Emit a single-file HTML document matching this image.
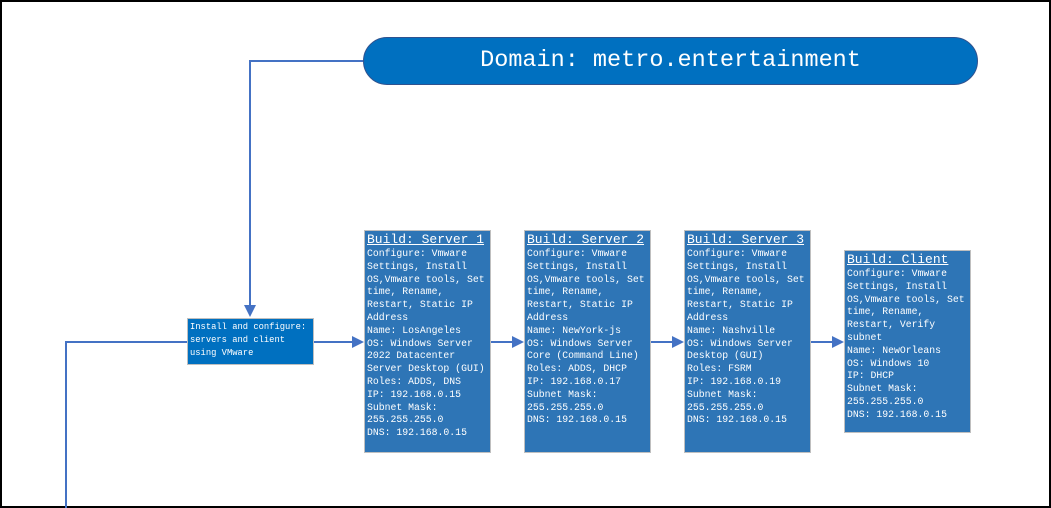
<!DOCTYPE html>
<html><head><meta charset="utf-8"><style>
body{margin:0;width:1051px;height:508px;position:relative;background:#fff;overflow:hidden}
.frame{position:absolute;left:0;top:0;width:1047px;height:504px;border:2px solid #000}
.box{position:absolute;background:#2e75b6;border:1px solid #bfbfbf;box-sizing:border-box;color:#fff;font-family:"Liberation Mono",monospace;font-size:9.8px;line-height:12.8px;padding:1px 0 0 2px;white-space:pre}
.box b{font-weight:normal;font-size:13px;line-height:16px;text-decoration:underline;display:block}
.pill{position:absolute;left:363px;top:37px;width:615px;height:48px;box-sizing:border-box;background:#0070c0;border:1px solid #2f528f;border-radius:24px;color:#fff;font-family:"Liberation Mono",monospace;font-size:23.5px;line-height:46px;text-align:center}
.inst{position:absolute;left:187px;top:318px;width:127px;height:47px;box-sizing:border-box;background:#0070c0;border:1px solid #bfbfbf;color:#fff;font-family:"Liberation Mono",monospace;font-size:8.8px;line-height:13px;padding:2px 0 0 2px;white-space:pre}
svg{position:absolute;left:0;top:0}
</style></head><body>
<div class="frame"></div>
<svg width="1051" height="508">
<g stroke="#4472c4" stroke-width="2" fill="none">
<polyline points="363,61 250,61 250,306"/>
<polyline points="187,342 66,342 66,508"/>
<line x1="314" y1="342" x2="353" y2="342"/>
<line x1="491" y1="342" x2="513" y2="342"/>
<line x1="651" y1="342" x2="673" y2="342"/>
<line x1="811" y1="342" x2="833" y2="342"/>
</g>
<g fill="#4472c4">
<polygon points="244,305 256,305 250,317"/>
<polygon points="352,336 364,342 352,348"/>
<polygon points="512,336 524,342 512,348"/>
<polygon points="672,336 684,342 672,348"/>
<polygon points="832,336 844,342 832,348"/>
</g>
</svg>
<div class="pill">Domain: metro.entertainment</div>
<div class="inst">Install and configure:
servers and client
using VMware</div>
<div class="box" style="left:364px;top:230px;width:127px;height:223px"><b>Build: Server 1</b>Configure: Vmware
Settings, Install
OS,Vmware tools, Set
time, Rename,
Restart, Static IP
Address
Name: LosAngeles
OS: Windows Server
2022 Datacenter
Server Desktop (GUI)
Roles: ADDS, DNS
IP: 192.168.0.15
Subnet Mask:
255.255.255.0
DNS: 192.168.0.15</div>
<div class="box" style="left:524px;top:230px;width:127px;height:223px"><b>Build: Server 2</b>Configure: Vmware
Settings, Install
OS,Vmware tools, Set
time, Rename,
Restart, Static IP
Address
Name: NewYork-js
OS: Windows Server
Core (Command Line)
Roles: ADDS, DHCP
IP: 192.168.0.17
Subnet Mask:
255.255.255.0
DNS: 192.168.0.15</div>
<div class="box" style="left:684px;top:230px;width:127px;height:223px"><b>Build: Server 3</b>Configure: Vmware
Settings, Install
OS,Vmware tools, Set
time, Rename,
Restart, Static IP
Address
Name: Nashville
OS: Windows Server
Desktop (GUI)
Roles: FSRM
IP: 192.168.0.19
Subnet Mask:
255.255.255.0
DNS: 192.168.0.15</div>
<div class="box" style="left:844px;top:250px;width:127px;height:183px"><b>Build: Client</b>Configure: Vmware
Settings, Install
OS,Vmware tools, Set
time, Rename,
Restart, Verify
subnet
Name: NewOrleans
OS: Windows 10
IP: DHCP
Subnet Mask:
255.255.255.0
DNS: 192.168.0.15</div>
</body></html>
